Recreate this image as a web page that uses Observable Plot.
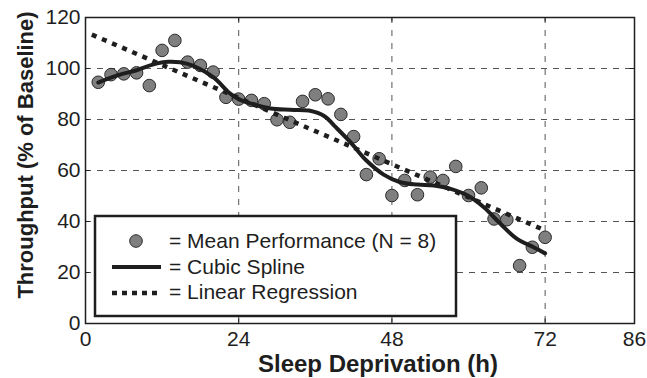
<!DOCTYPE html>
<html><head><meta charset="utf-8">
<script src="https://cdn.jsdelivr.net/npm/d3@7"></script>
<script src="https://cdn.jsdelivr.net/npm/@observablehq/plot@0.6"></script>
<style>body{margin:0;background:#fff;} svg{display:block;}</style>
</head><body><div id="chart"></div>
<script>
// Mean performance (N = 8)
const hours = [2,4,6,8,10,12,14,16,18,20,22,24,26,28,30,32,34,36,38,40,42,44,46,48,50,52,54,56,58,60,62,64,66,68,70,72];
const throughput = [94.6,97.6,97.9,98.3,93.3,107.1,111.0,102.5,101.2,98.6,88.7,88.0,87.5,86.2,79.9,78.9,87.1,89.7,88.1,82.0,73.3,58.4,64.6,50.2,56.1,50.5,57.4,56.1,61.6,50.2,53.2,41.0,40.7,22.7,29.9,33.8];
// Cubic spline
const splineHours = [2,5,8,10.5,13,16,20,22.5,24,26,29,32,35,37.5,39,41.5,44,46.7,49.3,52,54.6,57.2,60,62.4,65,67.6,70.2,72];
const splineValues = [94.5,97.3,99.3,101.5,102.6,101.8,96.6,90.5,88.0,86.2,84.3,83.8,83.5,81.2,77.5,71.1,63.9,58.4,55.4,54.5,54.1,52.8,50.0,45.6,39.1,33.2,29.9,27.5];
// Linear regression end points
const regressionHours = [1, 72];
const regressionValues = [113.3, 36.5];
// Axes
const xTicks = [0,24,48,72,86];
const yTicks = [0,20,40,60,80,100,120];
const xGrid = [24,48,72];
const yGrid = [20,40,60,80,100];
const legendLabels = ["= Mean Performance (N = 8)", "= Cubic Spline", "= Linear Regression"];
const xTitle = "Sleep Deprivation (h)";
const yTitle = "Throughput (% of Baseline)";

const points = hours.map((h, i) => ({h, v: throughput[i]}));
const spline = splineHours.map((h, i) => ({h, v: splineValues[i]}));
const regression = regressionHours.map((h, i) => ({h, v: regressionValues[i]}));

const ink = "#1e1e1e";
const dotFill = "#7f7f7f";

const svg = Plot.plot({
  width: 647, height: 378,
  marginLeft: 85, marginRight: 13, marginTop: 17, marginBottom: 55,
  style: {fontFamily: "'Liberation Sans', Arial, sans-serif", color: ink, background: "#fff"},
  x: {domain: [0, 86]},
  y: {domain: [0, 120]},
  marks: [
    Plot.gridX(xGrid, {stroke: "#555", strokeOpacity: 1, strokeDasharray: "6,7"}),
    Plot.gridY(yGrid, {stroke: "#555", strokeOpacity: 1, strokeDasharray: "6,6"}),
    Plot.ruleX(xTicks, {y1: 0, y2: 1.8, stroke: ink}),
    Plot.ruleX(xTicks, {y1: 120, y2: 118.2, stroke: ink}),
    Plot.ruleY(yTicks, {x1: 0, x2: 0.7, stroke: ink}),
    Plot.ruleY(yTicks, {x1: 86, x2: 85.3, stroke: ink}),
    Plot.dot(points, {x: "h", y: "v", r: 6.3, fill: dotFill, stroke: "#2a2a2a", strokeWidth: 1}),
    Plot.line(regression, {x: "h", y: "v", stroke: ink, strokeWidth: 4.5, strokeDasharray: "5,6", strokeLinecap: "butt"}),
    Plot.line(spline, {x: "h", y: "v", curve: "catmull-rom", stroke: ink, strokeWidth: 4}),
    Plot.frame({stroke: ink, strokeWidth: 1.5}),
    Plot.axisX({ticks: xTicks, tickSize: 0, tickPadding: 8, fontSize: 21, label: null, tickFormat: d => String(d)}),
    Plot.axisY({ticks: yTicks, tickSize: 0, tickPadding: 5, fontSize: 21, label: null, tickFormat: d => String(d)})
  ]
});
document.getElementById("chart").appendChild(svg);

const s = d3.select(svg);
// Axis titles
s.append("text").attr("x", 378).attr("y", 372).attr("text-anchor", "middle")
  .attr("font-weight", "bold").attr("font-size", 24).attr("fill", ink).text(xTitle);
s.append("text").attr("transform", "translate(33,155) rotate(-90)").attr("text-anchor", "middle")
  .attr("font-weight", "bold").attr("font-size", 22).attr("fill", ink).text(yTitle);

// Legend
const lg = s.append("g");
lg.append("rect").attr("x", 95).attr("y", 216).attr("width", 361).attr("height", 100)
  .attr("fill", "#fff").attr("stroke", ink).attr("stroke-width", 2.5);
lg.append("circle").attr("cx", 136).attr("cy", 241).attr("r", 6.3)
  .attr("fill", dotFill).attr("stroke", "#2a2a2a");
lg.append("line").attr("x1", 112).attr("x2", 161).attr("y1", 267).attr("y2", 267)
  .attr("stroke", ink).attr("stroke-width", 4);
lg.append("line").attr("x1", 112).attr("x2", 161).attr("y1", 293).attr("y2", 293)
  .attr("stroke", ink).attr("stroke-width", 4.5).attr("stroke-dasharray", "5,5");
const baselines = [247.5, 273.5, 299];
legendLabels.forEach((t, i) => {
  lg.append("text").attr("x", 169).attr("y", baselines[i]).attr("font-size", 21)
    .attr("text-anchor", "start").attr("fill", ink).text(t);
});
</script>
</body></html>
